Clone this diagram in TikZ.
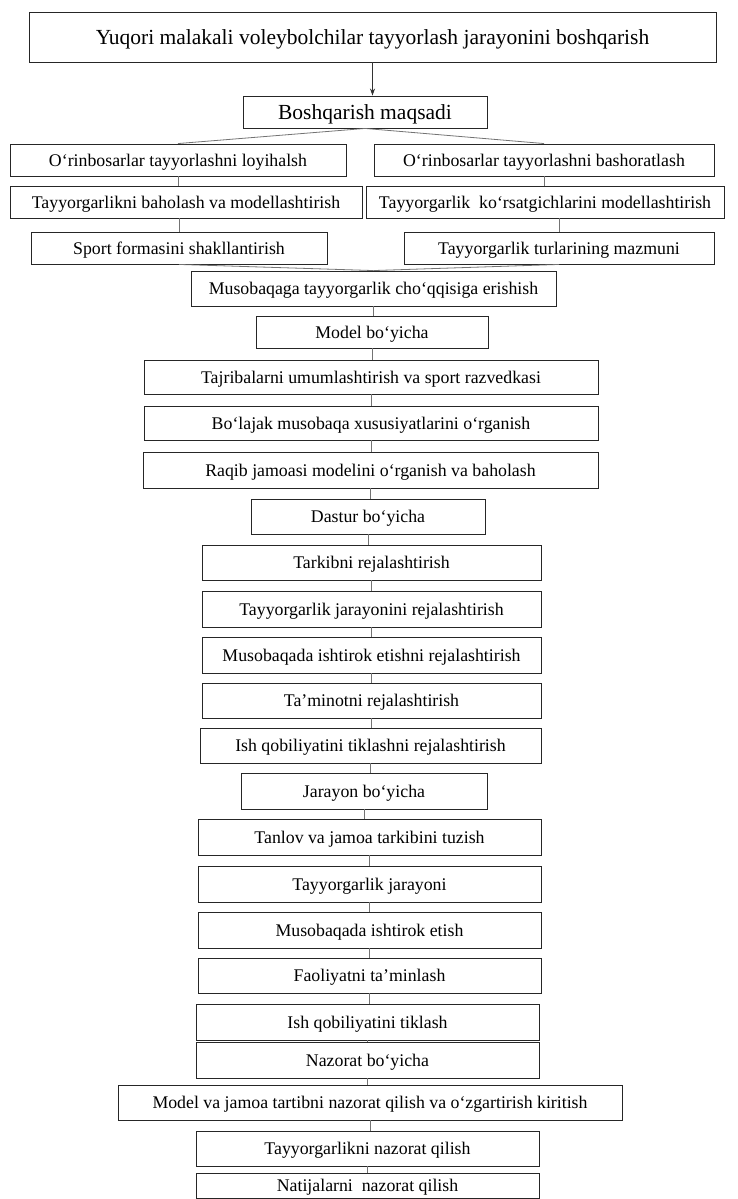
\documentclass[tikz,border=0pt]{standalone}
\usepackage{fontspec}
\setmainfont{Liberation Serif}
\usetikzlibrary{arrows.meta}
\tikzset{
  box/.style={draw=black!85, line width=0.9pt, inner sep=0pt, align=center, text height=16pt, text depth=3.6pt, font=\fontsize{17.8}{20}\selectfont},
  bigbox/.style={box, text height=19.4pt, text depth=4.3pt, font=\fontsize{21.5}{24}\selectfont},
  conn/.style={draw=black!55, line width=0.8pt},
  arr/.style={draw=black!80, line width=0.9pt, -{Stealth[length=7pt,width=5pt]}}
}
\newcommand\bx[7][box]{\node[#1, minimum width={(#5-#3)*1pt}, minimum height={(#6-#4)*1pt}] (#2) at ({(#3+#5)/2},{(#4+#6)/2}) {#7};}
\begin{document}
\begin{tikzpicture}[x=1pt,y=-1pt]
\useasboundingbox (0,0) rectangle (737,1199);
\bx[bigbox]{top}{29}{12}{716}{62}{Yuqori malakali voleybolchilar tayyorlash jarayonini boshqarish}
\bx[bigbox]{bq}{243}{96}{487}{128}{Boshqarish maqsadi}
\bx{la}{10}{144}{346}{176}{O‘rinbosarlar tayyorlashni loyihalsh}
\bx{ra}{374}{144}{714}{176}{O‘rinbosarlar tayyorlashni bashoratlash}
\bx{lb}{10}{186}{362}{218}{Tayyorgarlikni baholash va modellashtirish}
\bx{rb}{366}{186}{724}{218}{Tayyorgarlik\ \ ko‘rsatgichlarini modellashtirish}
\bx{lc}{31}{232}{327}{264}{Sport formasini shakllantirish}
\bx{rc}{404}{232}{714}{264}{Tayyorgarlik turlarining mazmuni}
\bx{mus}{191}{271}{556}{306}{Musobaqaga tayyorgarlik cho‘qqisiga erishish}
\bx{mod}{256}{316}{488}{348}{Model bo‘yicha}
\bx{m1}{144}{360}{598}{394}{Tajribalarni umumlashtirish va sport razvedkasi}
\bx{m2}{144}{406}{598}{440}{Bo‘lajak musobaqa xususiyatlarini o‘rganish}
\bx{m3}{143}{452}{598}{488}{Raqib jamoasi modelini o‘rganish va baholash}
\bx{das}{251}{499}{485}{534}{Dastur bo‘yicha}
\bx{d1}{202}{545}{541}{580}{Tarkibni rejalashtirish}
\bx{d2}{202}{591}{541}{627}{Tayyorgarlik jarayonini rejalashtirish}
\bx{d3}{202}{637}{541}{673}{Musobaqada ishtirok etishni rejalashtirish}
\bx{d4}{202}{683}{541}{718}{Ta’minotni rejalashtirish}
\bx{d5}{200}{728}{541}{763}{Ish qobiliyatini tiklashni rejalashtirish}
\bx{jar}{241}{773}{487}{809}{Jarayon bo‘yicha}
\bx{j1}{198}{819}{541}{855}{Tanlov va jamoa tarkibini tuzish}
\bx{j2}{198}{866}{541}{902}{Tayyorgarlik jarayoni}
\bx{j3}{198}{912}{541}{948}{Musobaqada ishtirok etish}
\bx{j4}{198}{958}{541}{993}{Faoliyatni ta’minlash}
\bx{j5}{196}{1004}{539}{1040}{Ish qobiliyatini tiklash}
\bx{naz}{196}{1042}{539}{1078}{Nazorat bo‘yicha}
\bx{n1}{118}{1085}{622}{1120}{Model va jamoa tartibni nazorat qilish va o‘zgartirish kiritish}
\bx{n2}{196}{1131}{539}{1166}{Tayyorgarlikni nazorat qilish}
\bx{n3}{196}{1173}{539}{1198}{Natijalarni\ \ nazorat qilish}
% connectors
\draw[arr] (top.south) -- (top.south |- bq.north);
\draw[conn] (bq.south) -- (la.north);
\draw[conn] (bq.south) -- (ra.north);
\draw[conn] (la.south) -- (la.south |- lb.north);
\draw[conn] (ra.south) -- (ra.south |- rb.north);
\draw[conn] (lc.north |- lb.south) -- (lc.north);
\draw[conn] (rc.north |- rb.south) -- (rc.north);
\draw[conn] (lc.south) -- (mus.north);
\draw[conn] (rc.south) -- (mus.north);
\foreach \a/\b in {mus/mod,mod/m1,m1/m2,m2/m3,m3/das,das/d1,d1/d2,d2/d3,d3/d4,d4/d5,d5/jar,jar/j1,j1/j2,j2/j3,j3/j4,j4/j5,j5/naz,naz/n1,n1/n2,n2/n3}
  \draw[conn] (\a.south) -- (\a.south |- \b.north);
\end{tikzpicture}
\end{document}
